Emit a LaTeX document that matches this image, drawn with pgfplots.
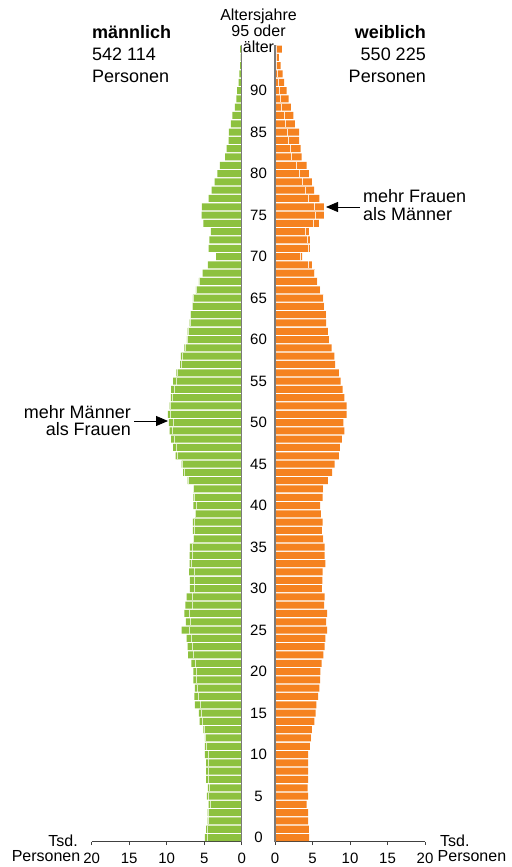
\documentclass[border=0pt]{standalone}
\usepackage{fontspec}
\setmainfont{Liberation Sans}
\usepackage{pgfplots}
\pgfplotsset{compat=1.18}
\usepackage{pgfplotstable}
\usetikzlibrary{arrows.meta}
\definecolor{mgreen}{HTML}{8DC13F}
\definecolor{forange}{HTML}{F58220}
\definecolor{axgray}{HTML}{7A7A7A}
\newcommand\fs[1]{\fontsize{#1bp}{#1bp}\selectfont}

\pgfplotstableread{
age m f
0 4.9 4.55
1 4.75 4.5
2 4.55 4.4
3 4.55 4.4
4 4.4 4.2
5 4.65 4.4
6 4.5 4.35
7 4.75 4.4
8 4.75 4.4
9 4.75 4.4
10 4.9 4.4
11 4.9 4.65
12 4.9 4.8
13 5.1 4.9
14 5.6 5.25
15 5.7 5.4
16 6.25 5.5
17 6.3 5.75
18 6.25 5.9
19 6.45 6.0
20 6.45 6.05
21 6.7 6.2
22 7.15 6.45
23 7.2 6.6
24 7.35 6.7
25 8.0 6.95
26 7.45 6.8
27 7.65 6.95
28 7.5 6.55
29 7.35 6.6
30 6.9 6.25
31 6.9 6.3
32 7.0 6.35
33 6.95 6.7
34 6.95 6.6
35 6.9 6.6
36 6.45 6.45
37 6.5 6.25
38 6.5 6.35
39 6.2 6.1
40 6.45 6.0
41 6.45 6.35
42 6.45 6.4
43 7.2 7.05
44 7.8 7.6
45 8.0 7.95
46 8.8 8.5
47 9.15 8.65
48 9.4 8.9
49 9.6 9.25
50 9.7 9.1
51 9.85 9.55
52 9.6 9.55
53 9.45 9.25
54 9.4 9.0
55 9.15 8.75
56 8.7 8.5
57 8.2 8.0
58 8.1 7.9
59 7.65 7.55
60 7.3 7.2
61 7.2 7.05
62 6.95 6.8
63 6.85 6.8
64 6.6 6.55
65 6.5 6.45
66 6.1 6.0
67 5.7 5.65
68 5.2 5.3
69 4.5 4.9
70 3.4 3.6
71 4.4 4.65
72 4.3 4.65
73 4.1 4.5
74 5.1 5.85
75 5.35 6.5
76 5.3 6.5
77 4.4 5.9
78 4.0 5.2
79 3.6 4.9
80 3.25 4.5
81 2.9 4.2
82 2.2 3.55
83 2.0 3.4
84 1.75 3.2
85 1.7 3.2
86 1.45 2.65
87 1.25 2.45
88 0.9 2.1
89 0.7 1.8
90 0.6 1.55
91 0.4 1.2
92 0.3 1.0
93 0.2 0.75
94 0.15 0.5
95 0.2 0.9
}\pop

\pgfplotsset{pyr/.style={
  scale only axis, width=150bp, height=796.8bp,
  ymin=-0.5, ymax=95.5,
  axis x line*=bottom, axis y line=none,
  tick align=outside, major tick length=3.5bp,
  x axis line style={draw=black!75, line width=0.8bp, -},
  xtick style={draw=black!75, line width=0.8bp},
  ytick=\empty,
  /pgf/number format/assume math mode=true,
  xticklabel style={font=\fs{15}, inner sep=0pt, anchor=base, yshift=-18bp},
  clip=false,
}}

\begin{document}
\begin{tikzpicture}
\useasboundingbox (0,0) rectangle (512bp,867bp);

% male (plotted leftwards)
\begin{axis}[pyr, at={(91.7bp,25.3bp)}, anchor=south west,
  xmin=-20, xmax=0, xtick={-20,-15,...,0}, xticklabels={20,15,10,5,0}]
  \addplot[xbar, bar width=7bp, bar shift=0pt, fill=mgreen, draw=none] table[x expr=-\thisrow{m},y=age]{\pop};
  \addplot[only marks, mark=|, mark size=3.5bp, mark options={draw=white, line width=1bp, opacity=0.7}] table[x expr=-\thisrow{f},y=age]{\pop};
  \draw[axgray, line width=1.2bp] (axis cs:0,-0.5) -- (axis cs:0,95.5);
\end{axis}

% female
\begin{axis}[pyr, at={(275bp,25.3bp)}, anchor=south west,
  xmin=0, xmax=20, xtick={0,5,...,20}]
  \addplot[xbar, bar width=7bp, bar shift=0pt, fill=forange, draw=none] table[x=f,y=age]{\pop};
  \addplot[only marks, mark=|, mark size=3.5bp, mark options={draw=white, line width=1bp, opacity=0.8}] table[x=m,y=age]{\pop};
  \draw[axgray, line width=1.2bp] (axis cs:0,-0.5) -- (axis cs:0,95.5);
  \pgfplotsinvokeforeach{0,5,...,90}{
    \node[font=\fs{15}, anchor=center, inner sep=0pt, xshift=-16.5bp] at (axis cs:0,#1) {#1};
  }
\end{axis}

\begin{scope}[x=1bp,y=1bp]
% headers
\node[font=\fs{18}\bfseries, anchor=base west, inner sep=0pt] at (92,828) {männlich};
\node[font=\fs{18}, anchor=base west, inner sep=0pt] at (92,806) {542 114};
\node[font=\fs{18}, anchor=base west, inner sep=0pt] at (92,784) {Personen};
\node[font=\fs{18}\bfseries, anchor=base east, inner sep=0pt] at (426,828) {weiblich};
\node[font=\fs{18}, anchor=base east, inner sep=0pt] at (426,806) {550 225};
\node[font=\fs{18}, anchor=base east, inner sep=0pt] at (426,784) {Personen};

\node[font=\fs{16}, anchor=base, inner sep=0pt] at (258.5,846.3) {Altersjahre};
\node[font=\fs{16}, anchor=base, inner sep=0pt] at (258.5,830.3) {95 oder};
\node[font=\fs{16}, anchor=base, inner sep=0pt] at (258.5,814) {älter};

% axis unit labels
\node[font=\fs{16}, anchor=base east, inner sep=0pt] at (78,21) {Tsd.};
\node[font=\fs{16}, anchor=base east, inner sep=0pt] at (80.5,6) {Personen};
\node[font=\fs{16}, anchor=base west, inner sep=0pt] at (440,21) {Tsd.};
\node[font=\fs{16}, anchor=base west, inner sep=0pt] at (437.5,6) {Personen};

% annotations
\node[font=\fs{18}, anchor=base east, inner sep=0pt] at (131,448) {mehr Männer};
\node[font=\fs{18}, anchor=base east, inner sep=0pt] at (131,431) {als Frauen};
\draw[black, line width=0.8bp, -{Triangle[length=12bp,width=10bp]}] (134,446) -- (168,446);

\node[font=\fs{18}, anchor=base west, inner sep=0pt] at (363,664) {mehr Frauen};
\node[font=\fs{18}, anchor=base west, inner sep=0pt] at (363,646) {als Männer};
\draw[black, line width=0.8bp, -{Triangle[length=12bp,width=10bp]}] (360,660) -- (326,660);
\end{scope}
\end{tikzpicture}
\end{document}
